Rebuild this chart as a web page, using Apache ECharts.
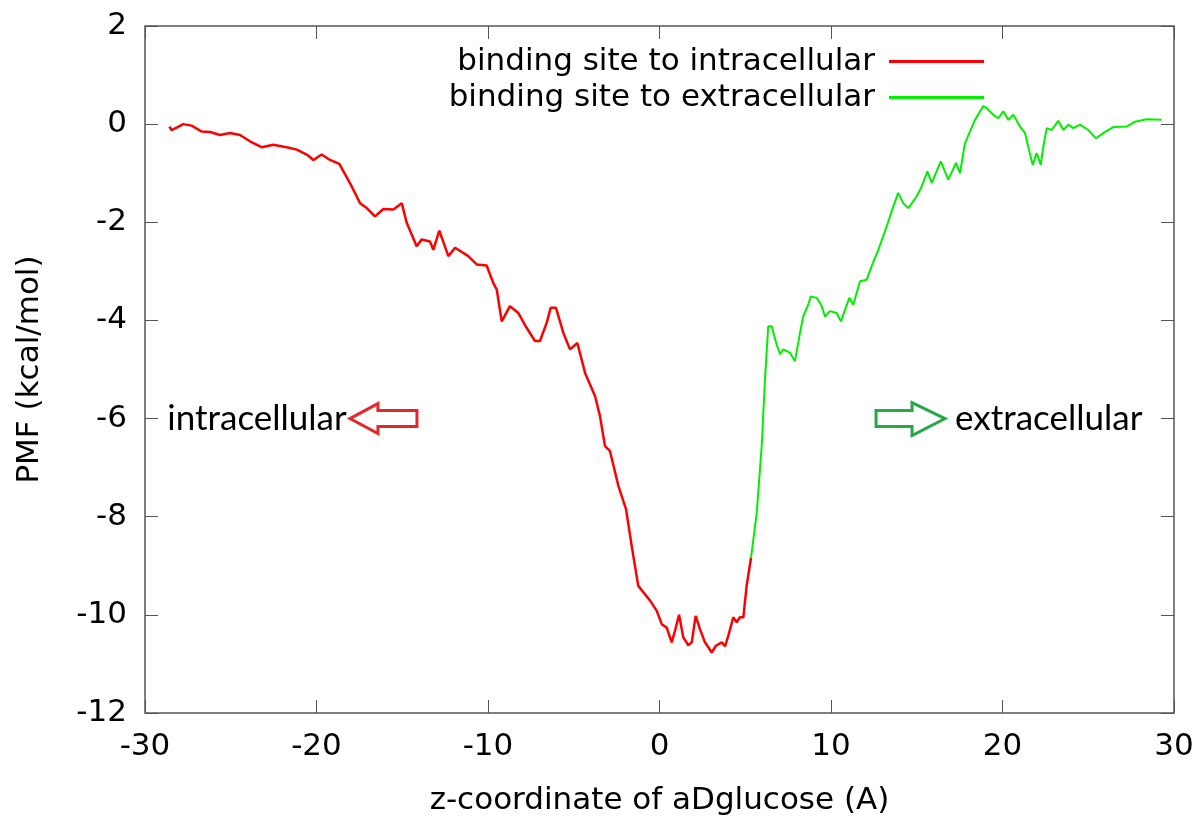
<!DOCTYPE html>
<html>
<head>
<meta charset="utf-8">
<script src="https://cdn.jsdelivr.net/npm/echarts@6/dist/echarts.min.js"></script>
<style>
  html, body { margin: 0; padding: 0; background: #fff; }
  #chart { width: 1202px; height: 821px; }
</style>
</head>
<body>
<div id="chart"></div>
<script>
// PMF curve
var redX = [-28.58, -28.45, -28.1, -27.77, -27.28, -26.7, -26.2, -25.63, -25.04, -24.46, -23.88, -23.2, -22.52, -21.74, -21.15, -20.57, -20.18, -19.7, -19.21, -18.67, -18.05, -17.46, -17.07, -16.59, -16.1, -15.52, -15.03, -14.74, -14.16, -13.87, -13.38, -13.19, -12.84, -12.31, -11.92, -11.15, -10.66, -10.08, -9.69, -9.49, -9.2, -8.72, -8.23, -7.75, -7.26, -6.97, -6.58, -6.34, -6.04, -5.61, -5.22, -4.79, -4.34, -3.76, -3.47, -3.18, -2.89, -2.4, -1.95, -1.62, -1.24, -0.94, -0.55, -0.16, 0.13, 0.42, 0.71, 0.9, 1.14, 1.39, 1.68, 1.88, 2.11, 2.36, 2.65, 2.85, 3.04, 3.29, 3.63, 3.82, 4.01, 4.3, 4.5, 4.69, 4.89, 5.08, 5.34];
var redY = [-0.05, -0.12, -0.06, 0.0, -0.03, -0.15, -0.16, -0.22, -0.18, -0.22, -0.35, -0.47, -0.42, -0.47, -0.52, -0.62, -0.73, -0.62, -0.73, -0.81, -1.2, -1.61, -1.71, -1.88, -1.73, -1.74, -1.61, -2.01, -2.49, -2.35, -2.39, -2.56, -2.17, -2.69, -2.52, -2.69, -2.86, -2.88, -3.24, -3.37, -4.02, -3.71, -3.85, -4.15, -4.42, -4.42, -4.05, -3.74, -3.74, -4.25, -4.59, -4.46, -5.07, -5.54, -5.95, -6.56, -6.66, -7.37, -7.85, -8.6, -9.41, -9.54, -9.71, -9.92, -10.19, -10.26, -10.56, -10.33, -10.0, -10.46, -10.62, -10.56, -10.02, -10.29, -10.56, -10.66, -10.77, -10.63, -10.56, -10.64, -10.43, -10.05, -10.15, -10.05, -10.05, -9.41, -8.83];

var greenX = [5.34, 5.67, 5.96, 6.15, 6.34, 6.54, 6.83, 7.03, 7.22, 7.61, 7.9, 8.19, 8.38, 8.67, 8.82, 9.17, 9.46, 9.65, 9.94, 10.33, 10.58, 10.82, 11.07, 11.3, 11.69, 12.08, 12.47, 12.76, 13.25, 13.63, 13.92, 14.21, 14.51, 15.0, 15.29, 15.62, 15.87, 16.4, 16.84, 17.29, 17.52, 17.81, 18.4, 18.88, 19.07, 19.46, 19.75, 20.05, 20.34, 20.63, 21.02, 21.31, 21.5, 21.76, 21.99, 22.23, 22.38, 22.58, 22.87, 23.25, 23.55, 23.84, 24.13, 24.52, 25.0, 25.45, 25.88, 26.46, 27.24, 27.73, 28.41, 29.28];
var greenY = [-8.83, -7.92, -6.56, -5.2, -4.12, -4.12, -4.49, -4.69, -4.59, -4.66, -4.83, -4.26, -3.92, -3.68, -3.51, -3.54, -3.71, -3.92, -3.81, -3.85, -4.02, -3.78, -3.54, -3.68, -3.2, -3.17, -2.8, -2.56, -2.08, -1.68, -1.4, -1.61, -1.71, -1.47, -1.27, -0.96, -1.2, -0.76, -1.13, -0.79, -1.0, -0.39, 0.09, 0.37, 0.33, 0.19, 0.12, 0.26, 0.09, 0.19, -0.05, -0.18, -0.46, -0.83, -0.59, -0.83, -0.46, -0.08, -0.12, 0.07, -0.12, -0.01, -0.08, -0.01, -0.12, -0.29, -0.18, -0.06, -0.05, 0.05, 0.1, 0.09];

var seriesNames = ['binding site to intracellular', 'binding site to extracellular'];

// annotation anchors (data coordinates)
var intraText = [-28.7, -6];
var extraText = [17.23, -6];
var redArrowTip = [-18.05, -6];
var greenArrowTip = [16.65, -6];

function pairs(xs, ys) {
    var out = [];
    for (var i = 0; i < xs.length; i++) out.push([xs[i], ys[i]]);
    return out;
}

var font = 'DejaVu Sans';
var axisGrey = '#555';

var myChart = echarts.init(document.getElementById('chart'));

var xBase = {
    type: 'value', min: -30, max: 30, interval: 10,
    axisLine: {show: false, onZero: false},
    axisTick: {inside: true, length: 13, lineStyle: {color: axisGrey, width: 1}},
    splitLine: {show: false}
};
var yBase = {
    type: 'value', min: -12, max: 2, interval: 2,
    axisLine: {show: false, onZero: false},
    axisTick: {inside: true, length: 13, lineStyle: {color: axisGrey, width: 1}},
    splitLine: {show: false}
};

var legendText = {fontFamily: font, fontSize: 31, color: '#000', padding: [0, 9, 0, 0]};

var options = {
    backgroundColor: '#fff',
    animation: false,
    grid: {
        left: 145, right: 28, top: 26, bottom: 107,
        show: true, borderColor: axisGrey, borderWidth: 1.5
    },
    legend: [{
        data: [seriesNames[0]],
        right: 213, top: 41,
        align: 'right',
        icon: 'rect', itemWidth: 95, itemHeight: 3,
        textStyle: legendText
    }, {
        data: [seriesNames[1]],
        right: 213, top: 77,
        align: 'right',
        icon: 'rect', itemWidth: 95, itemHeight: 3,
        textStyle: legendText
    }],
    xAxis: [
        Object.assign({}, xBase, {
            position: 'bottom',
            name: 'z-coordinate of aDglucose (A)',
            nameLocation: 'middle', nameGap: 72,
            nameTextStyle: {fontFamily: font, fontSize: 31, color: '#000'},
            axisLabel: {fontFamily: font, fontSize: 31, color: '#000', margin: 18}
        }),
        Object.assign({}, xBase, {position: 'top', axisLabel: {show: false}})
    ],
    yAxis: [
        Object.assign({}, yBase, {
            position: 'left',
            name: 'PMF (kcal/mol)',
            nameLocation: 'middle', nameGap: 100,
            nameTextStyle: {fontFamily: font, fontSize: 31, color: '#000'},
            axisLabel: {fontFamily: font, fontSize: 31, color: '#000', margin: 18}
        }),
        Object.assign({}, yBase, {position: 'right', axisLabel: {show: false}})
    ],
    series: [{
        name: seriesNames[0],
        type: 'line',
        showSymbol: false,
        itemStyle: {color: '#ff0000'},
        lineStyle: {color: '#ff0000', width: 2.5},
        data: pairs(redX, redY)
    }, {
        name: seriesNames[1],
        type: 'line',
        showSymbol: false,
        itemStyle: {color: '#00f000'},
        lineStyle: {color: '#00f000', width: 2},
        data: pairs(greenX, greenY)
    }]
};

myChart.setOption(options);

// 注释：箭头和文字
function px(p) { return myChart.convertToPixel({gridIndex: 0}, p); }
function shift(pts, o) { return pts.map(function (q) { return [q[0] + o[0], q[1] + o[1]]; }); }

var rt = px(redArrowTip), gt = px(greenArrowTip), it = px(intraText), et = px(extraText);
var annoFont = 'Lato';

myChart.setOption({
    graphic: [{
        type: 'polygon',
        shape: {points: shift([[0, 0], [28, -15], [28, -8], [67, -8], [67, 8], [28, 8], [28, 15]], rt)},
        style: {fill: 'none', stroke: '#e5262b', lineWidth: 3}
    }, {
        type: 'polygon',
        shape: {points: shift([[-69, -8], [-33, -8], [-33, -16], [0, 0], [-33, 17], [-33, 8], [-69, 8]], gt)},
        style: {fill: 'none', stroke: '#27a745', lineWidth: 3}
    }, {
        type: 'text', x: it[0], y: it[1],
        style: {text: 'intracellular', fontFamily: annoFont, fontSize: 35, fill: '#000', textVerticalAlign: 'middle', textAlign: 'left'}
    }, {
        type: 'text', x: et[0], y: et[1],
        style: {text: 'extracellular', fontFamily: annoFont, fontSize: 35, fill: '#000', textVerticalAlign: 'middle', textAlign: 'left'}
    }]
});
</script>
</body>
</html>
